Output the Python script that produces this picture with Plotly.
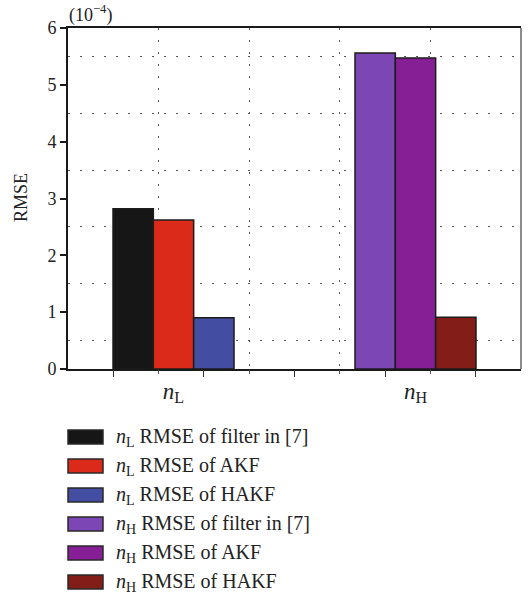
import plotly.graph_objects as go

# RMSE values (in units of 1e-4) for the two noise components
categories = ["<i>n</i><sub>L</sub>", "<i>n</i><sub>H</sub>"]
methods = ["filter in [7]", "AKF", "HAKF"]
rmse_nL = [2.82, 2.62, 0.90]
rmse_nH = [5.56, 5.47, 0.91]
colors_nL = ["#161616", "#dc2a1a", "#434ea3"]
colors_nH = ["#7c46b4", "#861f95", "#821d18"]
y_ticks = [0, 1, 2, 3, 4, 5, 6]

W, H = 530, 599
L, R, T, B = 68, 521, 28, 369
FONT = "Liberation Serif"


def px_x(px):
    return (px - L) / (R - L)


def px_y(py):
    return (B - py) / (B - T)


fig = go.Figure()

line_style = dict(color="#1c1c1c", width=1.5)
for i, m in enumerate(methods):
    fig.add_trace(go.Bar(
        x=[categories[0]], y=[rmse_nL[i]], offsetgroup=str(i),
        name=f"{categories[0]} RMSE of {m}",
        marker=dict(color=colors_nL[i], line=line_style),
        showlegend=False,
    ))
for i, m in enumerate(methods):
    fig.add_trace(go.Bar(
        x=[categories[1]], y=[rmse_nH[i]], offsetgroup=str(i),
        name=f"{categories[1]} RMSE of {m}",
        marker=dict(color=colors_nH[i], line=line_style),
        showlegend=False,
    ))

# invisible helper so the overlaid tick/grid axis is rendered
fig.add_trace(go.Scatter(x=[0, 10], y=[None, None], xaxis="x2", yaxis="y",
                         mode="markers", showlegend=False, hoverinfo="skip"))

grid_dash = "1.5px,10.5px"
fig.update_layout(
    width=W, height=H,
    margin=dict(l=L, r=W - R, t=T, b=H - B),
    paper_bgcolor="white", plot_bgcolor="white",
    barmode="group", bargap=0.5, bargroupgap=0,
    font=dict(family=FONT, color="#222", size=18),
    xaxis=dict(
        type="category", categoryorder="array", categoryarray=categories,
        range=[-0.436, 1.436], showgrid=False, ticks="",
        tickfont=dict(size=23), showline=True, linecolor="#1a1a1a",
        linewidth=2, mirror=True, zeroline=False,
    ),
    xaxis2=dict(
        overlaying="x", anchor="y", side="bottom", range=[0, 10],
        showticklabels=False, showgrid=False, zeroline=False,
        tickmode="array", tickvals=[1, 3, 5, 7, 9],
        ticks="outside", ticklen=7, tickwidth=1.2, tickcolor="#333",
        minor=dict(tickmode="array", tickvals=[2, 4, 6, 8], ticks="outside",
                   ticklen=4, tickwidth=1.2, tickcolor="#555",
                   showgrid=True, gridcolor="#555", gridwidth=1,
                   griddash=grid_dash),
    ),
    yaxis=dict(
        range=[0, 6], tickmode="array", tickvals=y_ticks,
        ticks="outside", ticklen=6, tickwidth=1.5, tickcolor="#1a1a1a",
        showgrid=False, zeroline=False, showline=True, linecolor="#1a1a1a",
        linewidth=2, tickfont=dict(size=18),
        minor=dict(tick0=0.5, dtick=1, ticks="", showgrid=True,
                   gridcolor="#555", gridwidth=1, griddash=grid_dash),
    ),
)

# right frame edge
fig.add_shape(type="line", xref="paper", yref="paper", x0=1, x1=1, y0=0, y1=1,
              line=dict(color="#666", width=1.5))

# axis title and exponent note
fig.add_annotation(text="RMSE", xref="paper", yref="paper", x=px_x(21), y=px_y(198),
                   textangle=-90, showarrow=False, font=dict(size=18),
                   xanchor="center", yanchor="middle")
fig.add_annotation(text="(10<sup>−4</sup>)", xref="paper", yref="paper",
                   x=px_x(67), y=px_y(14), showarrow=False, font=dict(size=18),
                   xanchor="left", yanchor="middle")

# legend drawn beneath the plot
row_y0, row_dy = 437, 29
for k, tr in enumerate(fig.data[:6]):
    cy = row_y0 + k * row_dy
    fig.add_shape(type="rect", xref="paper", yref="paper",
                  x0=px_x(68), x1=px_x(103), y0=px_y(cy - 7), y1=px_y(cy + 7),
                  fillcolor=tr.marker.color, line=dict(color="#2a2a2a", width=1.5))
    fig.add_annotation(text=tr.name, xref="paper", yref="paper",
                       x=px_x(114), y=px_y(cy), showarrow=False,
                       xanchor="left", yanchor="middle", font=dict(size=20))

fig.write_html("out.html")
